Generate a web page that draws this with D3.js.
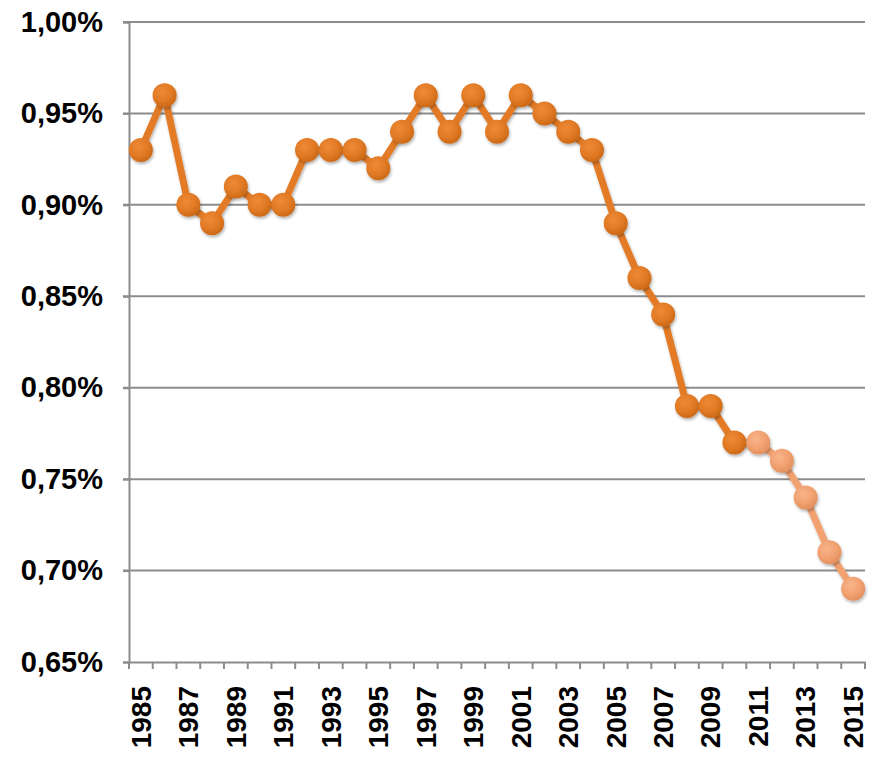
<!DOCTYPE html>
<html>
<head>
<meta charset="utf-8">
<script src="https://cdn.jsdelivr.net/npm/d3@7"></script>
<style>
  body { margin: 0; background: #fff; }
  svg text { font-family: "Liberation Sans", Arial, sans-serif; font-weight: bold; fill: #000; }
</style>
</head>
<body>
<script>
const years = d3.range(1985, 2016);
const actual = [0.93, 0.96, 0.90, 0.89, 0.91, 0.90, 0.90, 0.93, 0.93, 0.93, 0.92, 0.94, 0.96, 0.94, 0.96, 0.94, 0.96, 0.95, 0.94, 0.93, 0.89, 0.86, 0.84, 0.79, 0.79, 0.77];
const forecastYears = [2011, 2012, 2013, 2014, 2015];
const forecast = [0.77, 0.76, 0.74, 0.71, 0.69];
const yTicks = [0.65, 0.70, 0.75, 0.80, 0.85, 0.90, 0.95, 1.00];

const w = 870, h = 757;
const mLeft = 129, mRight = 865, mTop = 22, mBottom = 662;

const svg = d3.select("body").append("svg")
  .attr("width", w)
  .attr("height", h);

const defs = svg.append("defs");
function makeGrad(id, light, mid, dark) {
  const g = defs.append("radialGradient").attr("id", id)
    .attr("cx", "40%").attr("cy", "35%").attr("r", "65%");
  g.append("stop").attr("offset", "0%").attr("stop-color", light);
  g.append("stop").attr("offset", "60%").attr("stop-color", mid);
  g.append("stop").attr("offset", "100%").attr("stop-color", dark);
}
makeGrad("gDark", "#EE8A36", "#E27A25", "#CC6A18");
makeGrad("gLight", "#F8B58A", "#F2A171", "#E2905E");

const blur = defs.append("filter").attr("id", "shadow")
  .attr("x", "-50%").attr("y", "-50%").attr("width", "200%").attr("height", "200%");
blur.append("feDropShadow").attr("dx", 1).attr("dy", 2).attr("stdDeviation", 1.5)
  .attr("flood-color", "#000").attr("flood-opacity", 0.3);

const x = d3.scaleBand().domain(years).range([mLeft, mRight]);
const y = d3.scaleLinear().domain([0.65, 1.00]).range([mBottom, mTop]);

// gridlines
svg.append("g").selectAll("line")
  .data(yTicks.slice(1))
  .enter().append("line")
  .attr("x1", mLeft - 6).attr("x2", mRight)
  .attr("y1", d => y(d)).attr("y2", d => y(d))
  .attr("stroke", "#8c8c8c").attr("stroke-width", 2);

// y axis
const yAxis = svg.append("g")
  .attr("transform", `translate(${mLeft},0)`)
  .call(d3.axisLeft(y).tickValues(yTicks).tickSize(6)
    .tickFormat(d => d3.format(".2f")(d).replace(".", ",") + "%"));
yAxis.select(".domain").attr("stroke", "#8c8c8c").attr("stroke-width", 2);
yAxis.selectAll(".tick line").attr("stroke", "#8c8c8c").attr("stroke-width", 2);
yAxis.selectAll("text").attr("x", -26).style("font-size", "29px");

// x axis
const xAxis = svg.append("g")
  .attr("transform", `translate(0,${mBottom})`)
  .call(d3.axisBottom(x).tickSize(0).tickFormat(d => d % 2 === 1 ? d : ""));
xAxis.select(".domain").attr("stroke", "#8c8c8c").attr("stroke-width", 2);
xAxis.selectAll(".tick text")
  .attr("transform", "rotate(-90)")
  .attr("x", -24).attr("y", 0).attr("dy", "0.35em")
  .style("text-anchor", "end")
  .style("font-size", "28px");

// boundary ticks
svg.append("g").selectAll("line")
  .data(years.concat([2016]))
  .enter().append("line")
  .attr("x1", d => d === 2016 ? mRight : x(d))
  .attr("x2", d => d === 2016 ? mRight : x(d))
  .attr("y1", mBottom).attr("y2", mBottom + 7)
  .attr("stroke", "#8c8c8c").attr("stroke-width", 2);

const cx = yr => x(yr) + x.bandwidth() / 2;
const actualPts = actual.map((v, i) => ({ yr: years[i], v }));
const forecastPts = forecast.map((v, i) => ({ yr: forecastYears[i], v }));

const line = d3.line().x(d => cx(d.yr)).y(d => y(d.v));

svg.append("path").datum(forecastPts)
  .attr("d", line).attr("fill", "none")
  .attr("stroke", "#F2A171").attr("stroke-width", 7).attr("stroke-linejoin", "round")
  .attr("filter", "url(#shadow)");

svg.append("path").datum(actualPts.concat([forecastPts[0]]))
  .attr("d", line).attr("fill", "none")
  .attr("stroke", "#E27A25").attr("stroke-width", 7).attr("stroke-linejoin", "round")
  .attr("filter", "url(#shadow)");

svg.append("g").selectAll("circle")
  .data(actualPts)
  .enter().append("circle")
  .attr("cx", d => cx(d.yr)).attr("cy", d => y(d.v))
  .attr("r", 12)
  .attr("fill", "url(#gDark)")
  .attr("filter", "url(#shadow)");

svg.append("g").selectAll("circle")
  .data(forecastPts)
  .enter().append("circle")
  .attr("cx", d => cx(d.yr)).attr("cy", d => y(d.v))
  .attr("r", 12)
  .attr("fill", "url(#gLight)")
  .attr("filter", "url(#shadow)");
</script>
</body>
</html>
